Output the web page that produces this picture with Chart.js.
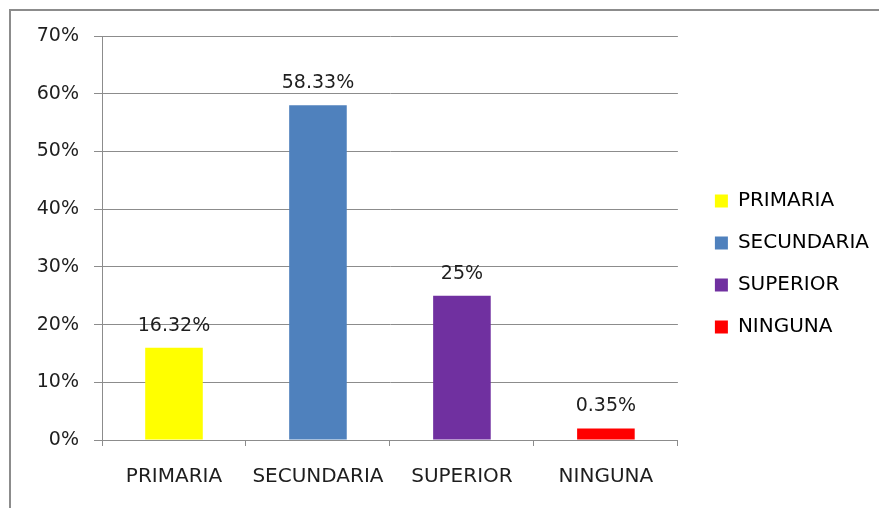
<!DOCTYPE html>
<html>
<head>
<meta charset="utf-8">
<script src="https://cdn.jsdelivr.net/npm/chart.js@4"></script>
<style>
  html, body { margin: 0; padding: 0; background: #fff; }
  #wrap { position: relative; width: 879px; height: 508px; }
</style>
</head>
<body>
<div id="wrap"><canvas id="nivelChart" width="879" height="508"></canvas></div>
<script>
// Nivel de estudios
const categorias = ['PRIMARIA', 'SECUNDARIA', 'SUPERIOR', 'NINGUNA'];
const valores = [16, 58, 25, 2];            // altura de las barras
const etiquetas = ['16.32%', '58.33%', '25%', '0.35%'];
const colores = ['#FFFF00', '#4F81BD', '#7030A0', '#FF0000'];
const ticksY = [0, 10, 20, 30, 40, 50, 60, 70];

const gris = '#8c8c8c';
const texto = '#1e1e1e';
const fuenteNum = { family: 'DejaVu Sans', size: 19 };
const fuenteTxt = { family: 'DejaVu Sans', size: 20 };

// marco gris arriba y a la izquierda
const marco = {
    id: 'marco',
    beforeDraw(chart) {
        const ctx = chart.ctx;
        ctx.save();
        ctx.fillStyle = gris;
        ctx.fillRect(9, 9, chart.width - 9, 2);
        ctx.fillRect(9, 9, 2, chart.height - 9);
        ctx.restore();
    }
};

// separa un poco la leyenda del área del gráfico
const separarLeyenda = {
    id: 'separarLeyenda',
    afterLayout(chart) {
        const lg = chart.legend;
        lg.left = chart.chartArea.right + 15;
        lg.right = lg.left + lg.width;
        lg.top += 2;
        lg.bottom += 2;
    }
};

// etiquetas de valor encima de cada barra
const etiquetasBarras = {
    id: 'etiquetasBarras',
    afterDatasetsDraw(chart) {
        const ctx = chart.ctx;
        const meta = chart.getDatasetMeta(0);
        ctx.save();
        ctx.font = fuenteNum.size + 'px ' + fuenteNum.family;
        ctx.fillStyle = texto;
        ctx.textAlign = 'center';
        ctx.textBaseline = 'alphabetic';
        meta.data.forEach((bar, i) => {
            ctx.fillText(etiquetas[i], bar.x, bar.y - 17);
        });
        ctx.restore();
    }
};

new Chart(document.getElementById('nivelChart'), {
    type: 'bar',
    data: {
        labels: categorias,
        datasets: [{
            label: 'Nivel',
            data: valores,
            backgroundColor: colores,
            borderWidth: 0,
            barPercentage: 0.4,
            categoryPercentage: 1
        }]
    },
    options: {
        responsive: false,
        animation: false,
        layout: { padding: { top: 36, left: 0, right: 15, bottom: 20 } },
        scales: {
            x: {
                grid: { display: true, drawOnChartArea: false, drawTicks: true, tickLength: 6, color: gris, offset: true },
                border: { color: gris },
                ticks: { color: texto, font: fuenteTxt, padding: 19 },
                afterFit: s => { s.height = 48; }
            },
            y: {
                min: 0,
                max: 70,
                afterBuildTicks: s => { s.ticks = ticksY.map(v => ({ value: v })); },
                grid: { color: gris, tickLength: 8 },
                border: { color: gris },
                ticks: { color: texto, font: fuenteNum, padding: 15, callback: v => v + '%' },
                afterFit: s => { s.width = 102; }
            }
        },
        plugins: {
            tooltip: { enabled: false },
            legend: {
                position: 'right',
                labels: {
                    boxWidth: 13,
                    boxHeight: 13,
                    padding: 22,
                    color: texto,
                    font: fuenteTxt,
                    generateLabels: chart => chart.data.labels.map((l, i) => ({
                        text: l,
                        fillStyle: colores[i],
                        strokeStyle: colores[i],
                        lineWidth: 0,
                        hidden: false,
                        index: i
                    }))
                }
            }
        }
    },
    plugins: [marco, separarLeyenda, etiquetasBarras]
});
</script>
</body>
</html>
